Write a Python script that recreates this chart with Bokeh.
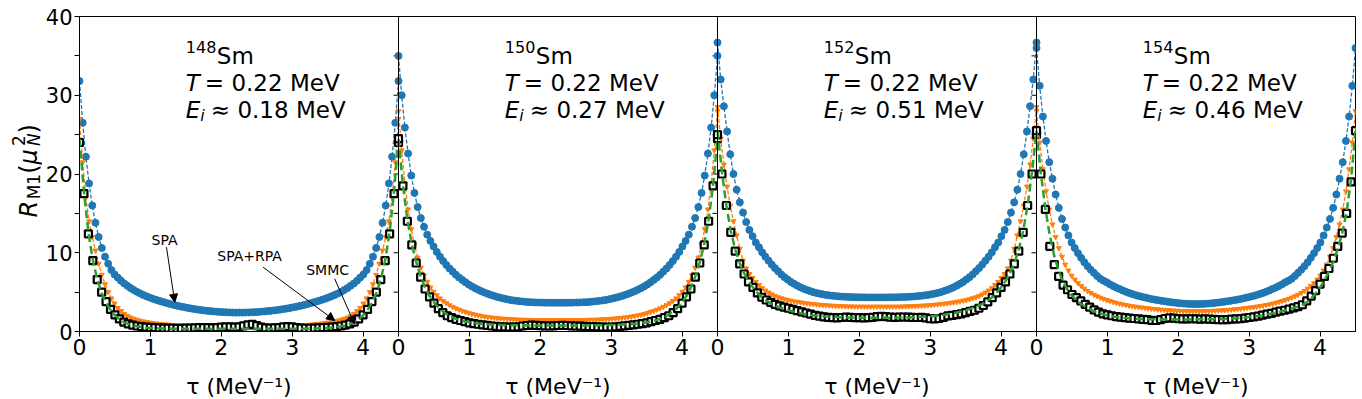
import numpy as np
from bokeh.plotting import figure
from bokeh.layouts import row, column
from bokeh.models import Range1d, FixedTicker, Label, Arrow, NormalHead, Span
from bokeh.embed import file_html
from bokeh.resources import INLINE

BETA = 4.5
isotopes = ["148", "150", "152", "154"]
temps = ["0.22", "0.22", "0.22", "0.22"]
e_i = ["0.18", "0.27", "0.51", "0.46"]
x_ticks = [0, 1, 2, 3, 4]
y_ticks = [0, 10, 20, 30, 40]
y_minor = [5, 15, 25, 35]

# ---- 148Sm ----
spa_148 = [31.8, 26.5, 22.2, 18.8, 16.0, 13.8, 12.0, 10.6, 9.5, 8.6, 7.8, 7.25, 6.85, 6.45, 6.1, 5.8, 5.52, 5.27, 5.04, 4.83, 4.64, 4.47, 4.31, 4.16, 4.02, 3.89, 3.77, 3.65, 3.54, 3.43, 3.33, 3.24, 3.15, 3.07, 2.99, 2.92, 2.85, 2.79, 2.73, 2.68, 2.63, 2.59, 2.55, 2.52, 2.49, 2.46, 2.44, 2.42, 2.41, 2.4, 2.4,
           2.4, 2.41, 2.42, 2.44, 2.46, 2.49, 2.52, 2.55, 2.59, 2.63, 2.68, 2.73, 2.79, 2.85, 2.92, 2.99, 3.07, 3.15, 3.24, 3.33, 3.43, 3.54, 3.65, 3.77, 3.89, 4.02, 4.16, 4.31, 4.47, 4.64, 4.83, 5.04, 5.27, 5.52, 5.8, 6.1, 6.45, 6.85, 7.25, 7.8, 8.6, 9.5, 10.6, 12.0, 13.8, 16.0, 18.8, 22.2, 26.5, 31.8]
rpa_148 = [27.0, 21.5, 17.0, 14.0, 12.0, 10.3, 8.6, 7.2, 6.0, 5.0, 4.2, 3.55, 3.0, 2.6, 2.25, 1.98, 1.78, 1.62, 1.49, 1.38, 1.29, 1.21, 1.14, 1.08, 1.03, 0.98, 0.94, 0.9, 0.86, 0.83, 0.8, 0.77, 0.75, 0.73, 0.71, 0.69, 0.68, 0.67, 0.66, 0.65, 0.64, 0.63, 0.62, 0.62, 0.61, 0.61, 0.6, 0.6, 0.6, 0.6, 0.6,
           0.6, 0.6, 0.6, 0.6, 0.61, 0.61, 0.62, 0.62, 0.63, 0.64, 0.65, 0.66, 0.67, 0.68, 0.69, 0.71, 0.73, 0.75, 0.77, 0.8, 0.83, 0.86, 0.9, 0.94, 0.98, 1.03, 1.08, 1.14, 1.21, 1.29, 1.38, 1.49, 1.62, 1.78, 1.98, 2.25, 2.6, 3.0, 3.55, 4.2, 5.0, 6.0, 7.2, 8.6, 10.3, 12.0, 14.0, 17.0, 21.5, 27.0]
smmc_148 = [24.0, 17.5, 12.4, 9.0, 6.6, 5.0, 3.8, 2.8, 2.1, 1.6, 1.2, 0.98, 0.82, 0.7, 0.62, 0.56, 0.52, 0.48, 0.45, 0.43, 0.42, 0.41, 0.4, 0.4, 0.42, 0.44, 0.45, 0.48, 0.5, 0.48, 0.45, 0.5, 0.55, 0.6, 0.58, 0.55, 0.6, 0.72, 0.85, 0.9, 0.75, 0.55, 0.45, 0.42, 0.45, 0.5, 0.58, 0.62, 0.6, 0.5, 0.44, 0.41, 0.41, 0.42, 0.45, 0.48, 0.52, 0.56, 0.62, 0.7, 0.82, 0.98, 1.2, 1.6, 2.1, 2.8, 3.8, 5.0, 6.6, 9.0, 12.4, 17.5, 24.0]
line_148 = [24.5, 17.8, 12.6, 9.1, 6.6, 4.9, 3.65, 2.75, 2.05, 1.55, 1.2, 0.95, 0.78, 0.66, 0.57, 0.5, 0.45, 0.42, 0.4, 0.38, 0.37, 0.36, 0.35, 0.35, 0.34, 0.34, 0.34, 0.34, 0.34, 0.34, 0.34, 0.34, 0.34, 0.34, 0.34, 0.34, 0.34,
            0.34, 0.34, 0.34, 0.34, 0.34, 0.34, 0.34, 0.34, 0.34, 0.34, 0.34, 0.34, 0.35, 0.35, 0.36, 0.37, 0.38, 0.4, 0.42, 0.45, 0.5, 0.57, 0.66, 0.78, 0.95, 1.2, 1.55, 2.05, 2.75, 3.65, 4.9, 6.6, 9.1, 12.6, 17.8, 24.5]

# ---- 150Sm ----
spa_150 = [35.0, 30.0, 25.9, 22.6, 19.8, 17.6, 15.8, 14.4, 13.3, 12.3, 11.5, 10.8, 10.1, 9.5, 8.95, 8.45, 8.0, 7.6, 7.2, 6.85, 6.55, 6.25, 5.98, 5.73, 5.5, 5.3, 5.11, 4.94, 4.78, 4.64, 4.51, 4.39, 4.28, 4.18, 4.09, 4.01, 3.95, 3.89, 3.84, 3.8, 3.76, 3.73, 3.71, 3.69, 3.68, 3.67, 3.66, 3.66, 3.65, 3.65, 3.65,
           3.65, 3.65, 3.66, 3.66, 3.67, 3.68, 3.69, 3.71, 3.73, 3.76, 3.8, 3.84, 3.89, 3.95, 4.01, 4.09, 4.18, 4.28, 4.39, 4.51, 4.64, 4.78, 4.94, 5.11, 5.3, 5.5, 5.73, 5.98, 6.25, 6.55, 6.85, 7.2, 7.6, 8.0, 8.45, 8.95, 9.5, 10.1, 10.8, 11.5, 12.3, 13.3, 14.4, 15.8, 17.6, 19.8, 22.6, 25.9, 30.0, 35.0]
rpa_150 = [28.0, 23.0, 18.8, 15.5, 13.0, 11.0, 9.4, 8.1, 7.1, 6.3, 5.6, 5.05, 4.6, 4.2, 3.88, 3.6, 3.35, 3.13, 2.94, 2.77, 2.62, 2.48, 2.35, 2.24, 2.14, 2.05, 1.97, 1.9, 1.84, 1.79, 1.74, 1.7, 1.66, 1.63, 1.6, 1.57, 1.55, 1.53, 1.51, 1.5, 1.49, 1.48, 1.47, 1.46, 1.45, 1.45, 1.44, 1.44, 1.44, 1.44, 1.44,
           1.44, 1.44, 1.44, 1.44, 1.45, 1.45, 1.46, 1.47, 1.48, 1.49, 1.5, 1.51, 1.53, 1.55, 1.57, 1.6, 1.63, 1.66, 1.7, 1.74, 1.79, 1.84, 1.9, 1.97, 2.05, 2.14, 2.24, 2.35, 2.48, 2.62, 2.77, 2.94, 3.13, 3.35, 3.6, 3.88, 4.2, 4.6, 5.05, 5.6, 6.3, 7.1, 8.1, 9.4, 11.0, 13.0, 15.5, 18.8, 23.0, 28.0]
smmc_150 = [24.5, 18.5, 14.0, 11.0, 8.7, 6.9, 5.4, 4.4, 3.6, 2.9, 2.4, 2.0, 1.75, 1.55, 1.4, 1.25, 1.1, 1.0, 0.92, 0.85, 0.78, 0.7, 0.65, 0.6, 0.58, 0.56, 0.55, 0.6, 0.7, 0.76, 0.8, 0.78, 0.75, 0.72, 0.7, 0.72, 0.76, 0.78, 0.76, 0.72, 0.7, 0.68, 0.65, 0.63, 0.62, 0.6, 0.57, 0.55, 0.55, 0.58, 0.65, 0.72, 0.78, 0.85, 0.92, 1.0, 1.1, 1.25, 1.4, 1.55, 1.75, 2.0, 2.4, 2.9, 3.6, 4.4, 5.4, 6.9, 8.7, 11.0, 14.0, 18.5, 24.5]
line_150 = [24.5, 18.6, 14.2, 11.1, 8.8, 7.0, 5.6, 4.5, 3.7, 3.05, 2.55, 2.15, 1.85, 1.6, 1.42, 1.28, 1.17, 1.08, 1.01, 0.96, 0.92, 0.89, 0.86, 0.84, 0.82, 0.81, 0.8, 0.79, 0.78, 0.78, 0.77, 0.77, 0.77, 0.77, 0.76, 0.76, 0.76,
            0.76, 0.76, 0.77, 0.77, 0.77, 0.77, 0.78, 0.78, 0.79, 0.8, 0.81, 0.82, 0.84, 0.86, 0.89, 0.92, 0.96, 1.01, 1.08, 1.17, 1.28, 1.42, 1.6, 1.85, 2.15, 2.55, 3.05, 3.7, 4.5, 5.6, 7.0, 8.8, 11.1, 14.2, 18.6, 24.5]

# ---- 152Sm ----
spa_152 = [36.7, 32.0, 28.6, 25.4, 22.5, 20.0, 18.0, 16.4, 15.1, 13.9, 12.9, 12.1, 11.3, 10.7, 10.05, 9.5, 9.0, 8.5, 8.05, 7.65, 7.25, 6.9, 6.6, 6.3, 6.05, 5.82, 5.62, 5.44, 5.28, 5.13, 5.0, 4.9, 4.8, 4.72, 4.65, 4.59, 4.54, 4.5, 4.46, 4.43, 4.41, 4.39, 4.37, 4.36, 4.35, 4.34, 4.34, 4.33, 4.33, 4.33, 4.33,
           4.33, 4.33, 4.33, 4.34, 4.34, 4.35, 4.36, 4.37, 4.39, 4.41, 4.43, 4.46, 4.5, 4.54, 4.59, 4.65, 4.72, 4.8, 4.9, 5.0, 5.13, 5.28, 5.44, 5.62, 5.82, 6.05, 6.3, 6.6, 6.9, 7.25, 7.65, 8.05, 8.5, 9.0, 9.5, 10.05, 10.7, 11.3, 12.1, 12.9, 13.9, 15.1, 16.4, 18.0, 20.0, 22.5, 25.4, 28.6, 32.0, 36.7]
rpa_152 = [28.5, 24.5, 21.2, 18.4, 16.0, 14.0, 12.2, 10.5, 9.0, 8.0, 7.3, 6.8, 6.3, 5.9, 5.5, 5.2, 4.95, 4.72, 4.5, 4.35, 4.22, 4.1, 4.0, 3.91, 3.83, 3.76, 3.7, 3.64, 3.58, 3.53, 3.48, 3.44, 3.4, 3.36, 3.33, 3.3, 3.28, 3.26, 3.24, 3.22, 3.2, 3.19, 3.18, 3.17, 3.16, 3.16, 3.16, 3.16, 3.16, 3.16, 3.16,
           3.16, 3.16, 3.16, 3.16, 3.16, 3.16, 3.17, 3.18, 3.19, 3.2, 3.22, 3.24, 3.26, 3.28, 3.3, 3.33, 3.36, 3.4, 3.44, 3.48, 3.53, 3.58, 3.64, 3.7, 3.76, 3.83, 3.91, 4.0, 4.1, 4.22, 4.35, 4.5, 4.72, 4.95, 5.2, 5.5, 5.9, 6.3, 6.8, 7.3, 8.0, 9.0, 10.5, 12.2, 14.0, 16.0, 18.4, 21.2, 24.5, 28.5]
smmc_152 = [25.0, 20.0, 16.0, 12.6, 10.2, 8.6, 7.3, 6.3, 5.6, 4.9, 4.35, 4.0, 3.7, 3.45, 3.25, 3.1, 2.95, 2.8, 2.65, 2.5, 2.35, 2.2, 2.05, 1.95, 1.85, 1.8, 1.75, 1.72, 1.78, 1.82, 1.8, 1.76, 1.75, 1.74, 1.76, 1.8, 1.88, 1.92, 1.88, 1.82, 1.8, 1.82, 1.84, 1.82, 1.8, 1.78, 1.8, 1.72, 1.62, 1.6, 1.65, 1.8, 1.98, 2.05, 2.15, 2.25, 2.4, 2.55, 2.7, 2.95, 3.3, 3.75, 4.3, 4.9, 5.6, 6.3, 7.3, 8.6, 10.2, 12.6, 16.0, 20.0, 25.0]
line_152 = [25.5, 20.3, 16.0, 12.8, 10.4, 8.7, 7.4, 6.4, 5.6, 4.9, 4.35, 3.92, 3.58, 3.3, 3.07, 2.87, 2.7, 2.55, 2.42, 2.3, 2.2, 2.11, 2.04, 1.98, 1.93, 1.89, 1.86, 1.83, 1.81, 1.79, 1.78, 1.77, 1.76, 1.76, 1.75, 1.75, 1.75,
            1.75, 1.75, 1.76, 1.76, 1.77, 1.78, 1.79, 1.81, 1.83, 1.86, 1.89, 1.93, 1.98, 2.04, 2.11, 2.2, 2.3, 2.42, 2.55, 2.7, 2.87, 3.07, 3.3, 3.58, 3.92, 4.35, 4.9, 5.6, 6.4, 7.4, 8.7, 10.4, 12.8, 16.0, 20.3, 25.5]

# ---- 154Sm ----
spa_154 = [36.0, 31.2, 27.3, 24.2, 21.5, 19.4, 17.4, 15.7, 14.3, 13.2, 12.2, 11.3, 10.6, 9.95, 9.35, 8.8, 8.3, 7.85, 7.45, 7.05, 6.7, 6.45, 6.25, 6.0, 5.78, 5.58, 5.4, 5.22, 5.05, 4.9, 4.76, 4.63, 4.52, 4.42, 4.32, 4.22, 4.13, 4.05, 3.98, 3.91, 3.85, 3.79, 3.73, 3.68, 3.63, 3.58, 3.55, 3.52, 3.5, 3.49, 3.48,
           3.49, 3.5, 3.52, 3.55, 3.58, 3.63, 3.68, 3.73, 3.79, 3.85, 3.91, 3.98, 4.05, 4.13, 4.22, 4.32, 4.42, 4.52, 4.63, 4.76, 4.9, 5.05, 5.22, 5.4, 5.58, 5.78, 6.0, 6.25, 6.45, 6.7, 7.05, 7.45, 7.85, 8.3, 8.8, 9.35, 9.95, 10.6, 11.3, 12.2, 13.2, 14.3, 15.7, 17.4, 19.4, 21.5, 24.2, 27.3, 31.2, 36.0]
rpa_154 = [28.0, 24.0, 20.6, 17.8, 15.5, 13.6, 12.0, 10.6, 9.5, 8.5, 7.75, 7.1, 6.6, 6.15, 5.8, 5.45, 5.15, 4.9, 4.68, 4.48, 4.3, 4.15, 4.0, 3.87, 3.75, 3.64, 3.54, 3.45, 3.37, 3.29, 3.22, 3.16, 3.1, 3.05, 3.0, 2.95, 2.9, 2.86, 2.82, 2.78, 2.75, 2.72, 2.69, 2.67, 2.65, 2.63, 2.61, 2.6, 2.59, 2.59, 2.58,
           2.59, 2.59, 2.6, 2.61, 2.63, 2.65, 2.67, 2.69, 2.72, 2.75, 2.78, 2.82, 2.86, 2.9, 2.95, 3.0, 3.05, 3.1, 3.16, 3.22, 3.29, 3.37, 3.45, 3.54, 3.64, 3.75, 3.87, 4.0, 4.15, 4.3, 4.48, 4.68, 4.9, 5.15, 5.45, 5.8, 6.15, 6.6, 7.1, 7.75, 8.5, 9.5, 10.6, 12.0, 13.6, 15.5, 17.8, 20.6, 24.0, 28.0]
smmc_154 = [25.5, 20.0, 15.5, 10.8, 8.5, 7.0, 5.9, 5.3, 4.7, 4.3, 3.9, 3.45, 3.1, 2.75, 2.45, 2.25, 2.1, 2.0, 1.9, 1.82, 1.76, 1.7, 1.65, 1.6, 1.55, 1.5, 1.42, 1.4, 1.5, 1.65, 1.74, 1.7, 1.62, 1.6, 1.6, 1.62, 1.6, 1.58, 1.6, 1.58, 1.55, 1.5, 1.49, 1.52, 1.56, 1.6, 1.62, 1.7, 1.78, 1.85, 1.95, 2.08, 2.2, 2.3, 2.45, 2.6, 2.7, 2.85, 3.0, 3.15, 3.4, 3.9, 4.5, 5.2, 6.0, 7.0, 8.0, 9.3, 10.8, 12.5, 15.0, 19.0, 25.5]
line_154 = [25.5, 20.0, 15.6, 12.2, 9.6, 7.7, 6.3, 5.3, 4.55, 3.98, 3.52, 3.14, 2.83, 2.57, 2.36, 2.19, 2.05, 1.94, 1.85, 1.78, 1.72, 1.67, 1.63, 1.6, 1.58, 1.56, 1.55, 1.54, 1.53, 1.53, 1.53, 1.53, 1.53, 1.53, 1.53, 1.53, 1.53,
            1.54, 1.55, 1.56, 1.57, 1.58, 1.6, 1.62, 1.65, 1.68, 1.72, 1.77, 1.83, 1.9, 1.98, 2.07, 2.17, 2.28, 2.4, 2.53, 2.67, 2.83, 3.0, 3.15, 3.35, 3.7, 4.2, 4.85, 5.6, 6.5, 7.6, 8.9, 10.5, 12.5, 15.2, 19.3, 25.5]

spa = [spa_148, spa_150, spa_152, spa_154]
rpa = [rpa_148, rpa_150, rpa_152, rpa_154]
smmc = [smmc_148, smmc_150, smmc_152, smmc_154]
smmc_line = [line_148, line_150, line_152, line_154]

BLUE = "#1f77b4"
ORANGE = "#ff7f0e"
GREEN = "#2ca02c"
FONT = "DejaVu Sans"
NP = len(isotopes)
FW, FH = 1276, 315
XMAX = NP * BETA
YMAX = 40
DXP = XMAX / FW   # data units per pixel (x)
DYP = YMAX / FH   # data units per pixel (y)

LEFT_W = 42            # strip holding the y-axis title
BL, BR, BT, BB = 36, 8, 16, 33
P_H = BT + FH + BB     # 364
Q_H = 35

p = figure(frame_width=FW, frame_height=FH, x_range=Range1d(0, XMAX), y_range=Range1d(0, YMAX),
           output_backend="svg", toolbar_location=None,
           min_border_left=BL, min_border_right=BR, min_border_top=BT, min_border_bottom=BB)
p.xgrid.visible = False
p.ygrid.visible = False
p.outline_line_color = "black"
p.outline_line_width = 1
p.outline_line_alpha = 1.0
p.background_fill_color = "white"
p.border_fill_color = "white"

xt = []
overrides = {}
for i in range(NP):
    for t in x_ticks:
        v = float(i * BETA + t)
        xt.append(v)
        overrides[v] = str(t)
p.xaxis.ticker = FixedTicker(ticks=xt, minor_ticks=[])
p.xaxis.major_label_overrides = overrides
p.yaxis.ticker = FixedTicker(ticks=y_ticks, minor_ticks=y_minor)

for ax in (p.xaxis[0], p.yaxis[0]):
    ax.major_label_text_font = FONT
    ax.major_label_text_color = "black"
    ax.major_tick_out = 5
    ax.major_tick_in = 0
    ax.minor_tick_out = 5
    ax.minor_tick_in = 0
    ax.major_tick_line_color = "black"
    ax.minor_tick_line_color = "black"
    ax.axis_line_color = "black"
p.xaxis.major_label_text_font_size = "22px"
p.yaxis.major_label_text_font_size = "21px"
p.yaxis.major_label_standoff = 2
p.xaxis.major_label_standoff = 2

# panel separators and their ticks
for i in range(1, NP):
    b = i * BETA
    p.add_layout(Span(location=b, dimension="height", line_color="black", line_width=1))
    ys = y_ticks + y_minor
    p.segment(x0=[b] * len(ys), x1=[b - 5 * DXP] * len(ys), y0=ys, y1=ys,
              line_color="black", line_width=1)

for i in range(NP):
    off = i * BETA
    xs = np.linspace(0, BETA, len(spa[i])) + off
    p.line(xs, spa[i], line_color=BLUE, line_width=1.3, line_dash="4 2")
    p.scatter(xs, spa[i], marker="circle", size=7, fill_color=BLUE, line_color=BLUE)
    xr = np.linspace(0, BETA, len(rpa[i])) + off
    p.line(xr, rpa[i], line_color=ORANGE, line_width=1.3, line_dash="4 2")
    p.scatter(xr, rpa[i], marker="inverted_triangle", size=5, fill_color=ORANGE, line_color=ORANGE)
    xm = np.linspace(0, BETA, len(smmc[i])) + off
    p.scatter(xm, smmc[i], marker="square", size=7, fill_color="white", line_color="black", line_width=2.2)
    xl = np.linspace(0, BETA, len(smmc_line[i])) + off
    p.line(xl, smmc_line[i], line_color=GREEN, line_width=2.5, line_dash="8 4")

def lab(fig, x, y, text, size, style="normal", align="left", baseline="alphabetic", angle=0.0):
    fig.add_layout(Label(x=x, y=y, text=text, text_font=FONT, text_font_size=f"{size}px",
                         text_font_style=style, text_color="black", text_align=align,
                         text_baseline=baseline, angle=angle))

for i in range(NP):
    x0 = i * BETA + 1.5
    lab(p, x0, 35.0 + 9 * DYP, isotopes[i], 16)
    lab(p, x0 + 31 * DXP, 35.0, "Sm", 23)
    lab(p, x0, 31.6, "T", 23, "italic")
    lab(p, x0 + 19 * DXP, 31.6, "= " + temps[i] + " MeV", 23)
    lab(p, x0, 28.1, "E", 23, "italic")
    lab(p, x0 + 14.5 * DXP, 28.1 - 5 * DYP, "i", 16, "italic")
    lab(p, x0 + 25 * DXP, 28.1, "\u2248 " + e_i[i] + " MeV", 23)

# annotations in the first panel
lab(p, 1.2, 11.56, "SPA", 14, align="center", baseline="middle")
lab(p, 2.40, 9.55, "SPA+RPA", 14, align="center", baseline="middle")
lab(p, 3.5, 7.75, "SMMC", 14, align="center", baseline="middle")
for (xs_, ys_, xe_, ye_) in [(1.227, 10.7, 1.344, 3.72), (2.59, 8.17, 3.6, 1.4), (3.6, 6.69, 3.88, 0.97)]:
    p.add_layout(Arrow(end=NormalHead(size=8, fill_color="black", line_color="black", line_width=1),
                       x_start=xs_, y_start=ys_, x_end=xe_, y_end=ye_,
                       line_color="black", line_width=1))

# strip below: x-axis titles (shares the x range)
q = figure(frame_width=FW, frame_height=Q_H, x_range=p.x_range, y_range=Range1d(0, Q_H),
           x_axis_type=None, y_axis_type=None, output_backend="svg", toolbar_location=None,
           min_border_left=BL, min_border_right=BR, min_border_top=0, min_border_bottom=0)
q.outline_line_color = None
for i in range(NP):
    lab(q, i * BETA + BETA / 2, 13, "\u03c4 (MeV\u207b\u00b9)", 22, align="center")

# strip at left: y-axis title R_M1(mu_N^2), rotated
r = figure(frame_width=LEFT_W, frame_height=P_H, x_range=Range1d(0, LEFT_W), y_range=Range1d(0, P_H),
           x_axis_type=None, y_axis_type=None, output_backend="svg", toolbar_location=None,
           min_border_left=0, min_border_right=0, min_border_top=0, min_border_bottom=0)
r.outline_line_color = None
A = np.pi / 2
bx = 28
lab(r, bx, P_H - 217, "R", 24, "italic", angle=A)
lab(r, bx + 5, P_H - 198.8, "M1", 17, angle=A)
lab(r, bx, P_H - 173.3, "(", 24, angle=A)
lab(r, bx, P_H - 163.9, "\u03bc", 24, "italic", angle=A)
lab(r, bx + 5, P_H - 145.6, "N", 17, "italic", angle=A)
lab(r, bx - 10, P_H - 145.6, "2", 17, angle=A)
lab(r, bx, P_H - 132.9, ")", 24, angle=A)

layout = row(r, column(p, q))
open("out.html", "w").write(file_html(layout, INLINE))
